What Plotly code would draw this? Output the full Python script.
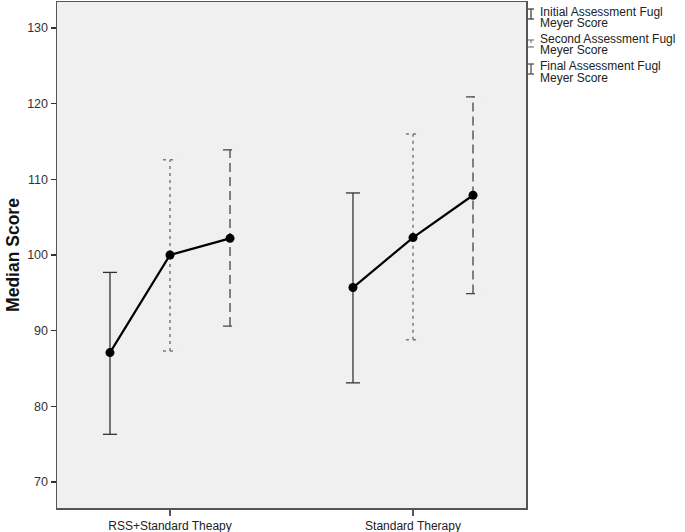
import plotly.graph_objects as go

# ---- data ----
groups = ["RSS+Standard Theapy", "Standard Therapy"]
series_lines = [["Initial Assessment Fugl", "Meyer Score"],
                ["Second Assessment Fugl", "Meyer Score"],
                ["Final Assessment Fugl", "Meyer Score"]]
median_vals = {
    "initial": [87.1, 95.7],
    "second": [100.0, 102.3],
    "final": [102.2, 107.9],
}
upper_vals = {
    "initial": [97.7, 108.2],
    "second": [112.6, 116.0],
    "final": [113.9, 120.9],
}
lower_vals = {
    "initial": [76.3, 83.1],
    "second": [87.3, 88.8],
    "final": [90.6, 94.9],
}
y_ticks = [70, 80, 90, 100, 110, 120, 130]

# ---- styling ----
keys = ["initial", "second", "final"]
offsets = {"initial": -0.247, "second": 0.0, "final": 0.247}
styles = {
    "initial": dict(color="#333333", dash="solid", width=1.3),
    "second": dict(color="#7a7a7a", dash="3px,4px", width=1.5),
    "final": dict(color="#444444", dash="9px,5px", width=1.3),
}
cap_half = 0.029

fig = go.Figure()

for k in keys:
    xs, ys = [], []
    for gi in range(len(groups)):
        xc = gi + offsets[k]
        lo, hi = lower_vals[k][gi], upper_vals[k][gi]
        xs += [xc, xc, None, xc - cap_half, xc + cap_half, None, xc - cap_half, xc + cap_half, None]
        ys += [lo, hi, None, hi, hi, None, lo, lo, None]
    fig.add_trace(go.Scatter(x=xs, y=ys, mode="lines", line=styles[k],
                             showlegend=False, hoverinfo="skip"))

for gi in range(len(groups)):
    fig.add_trace(go.Scatter(
        x=[gi + offsets[k] for k in keys],
        y=[median_vals[k][gi] for k in keys],
        mode="lines+markers",
        line=dict(color="black", width=2.2),
        marker=dict(color="black", size=9),
        showlegend=False, hoverinfo="skip"))

W, H = 685, 532
L, R, T, B = 57, 526, 2, 508

def px(x):
    return (x - L) / (R - L)

def py(y):
    return (B - y) / (B - T)

# custom legend: icons + text
legend_icon_y = [(9, 19), (40, 47), (64, 74)]
legend_text_y = [(12, 23), (39, 50), (66, 78)]
for i, k in enumerate(keys):
    y0, y1 = legend_icon_y[i]
    xc = 531
    col = styles[k]["color"]
    for (xa, ya, xb, yb) in [(xc, y0, xc, y1), (xc - 3, y0, xc + 3, y0), (xc - 3, y1, xc + 3, y1)]:
        fig.add_shape(type="line", xref="paper", yref="paper",
                      x0=px(xa), y0=py(ya), x1=px(xb), y1=py(yb),
                      line=dict(color=col, width=1.2,
                                dash="dot" if (k == "second" and xa == xb) else "solid"))
    for line_text, ty in zip(series_lines[i], legend_text_y[i]):
        fig.add_annotation(xref="paper", yref="paper", x=px(539), y=py(ty),
                           text=line_text, showarrow=False, xanchor="left", yanchor="middle",
                           align="left", borderpad=0,
                           font=dict(family="Liberation Sans, Arial", size=12, color="#222"))

fig.update_layout(
    width=W, height=H,
    margin=dict(l=L, r=W - R, t=T, b=H - B, autoexpand=False),
    paper_bgcolor="white", plot_bgcolor="#f0f0f0",
    font=dict(family="Liberation Sans, Arial", size=12, color="#333"),
    xaxis=dict(range=[-0.465, 1.465], tickvals=list(range(len(groups))), ticktext=groups,
               showgrid=False, zeroline=False, showline=True, mirror=True, automargin=False,
               linecolor="#555", linewidth=1.5, ticks="outside", ticklen=6,
               tickcolor="#555", tickwidth=1.5, tickfont=dict(size=12, color="#222")),
    yaxis=dict(range=[66.56, 133.44], tickvals=y_ticks, automargin=False,
               showgrid=False, zeroline=False, showline=True, mirror=True,
               linecolor="#555", linewidth=1.5, ticks="outside", ticklen=5,
               tickcolor="#333", tickwidth=1.3, tickfont=dict(size=12.5, color="#333"),
               title=dict(text="<b>Median Score</b>", font=dict(size=17.5, color="#111"), standoff=3)),
)

fig.write_html("out.html", config={"displayModeBar": False, "staticPlot": True},
               post_script="document.body.style.margin='0';document.body.style.padding='0';"
                           "document.body.style.overflow='hidden';")
